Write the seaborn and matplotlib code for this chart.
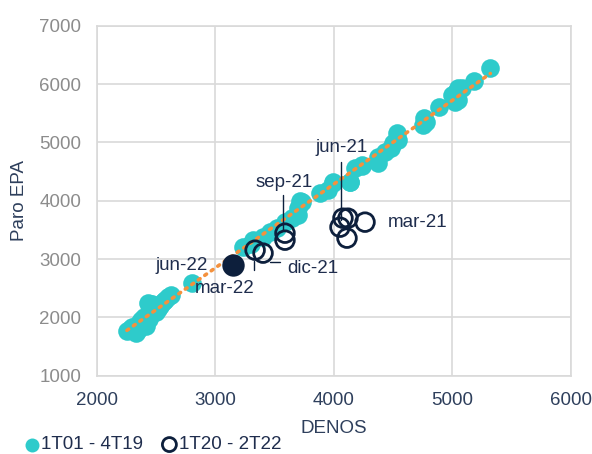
import numpy as np
import pandas as pd
import matplotlib.pyplot as plt
import seaborn as sns

sns.set_style("white")
plt.rcParams['font.family'] = ['Liberation Sans', 'DejaVu Sans']

# 1T01 - 4T19 (miles)
denos_hist = [2255, 2280, 2300, 2330, 2350, 2300, 2360, 2350, 2370, 2400, 2420, 2400,
              2440, 2430, 2450, 2460, 2470, 2480, 2480, 2500, 2520, 2530, 2550, 2570,
              2580, 2600, 2630, 2805,
              3230, 3300, 3320, 3400, 3460, 3520, 3590, 3650, 3700, 3715, 3700, 3730,
              3880, 3950, 3990, 3993, 4136, 4140, 4178, 4237, 4240, 4372, 4372, 4431,
              4480, 4498, 4532, 4540,
              4752, 4760, 4780, 4890, 5020, 5050, 5000, 5046, 5080, 5030, 5180, 5320]
paro_hist = [1770, 1800, 1830, 1740, 1780, 1780, 1900, 1850, 1960, 1950, 1860, 2000,
             1980, 2250, 2200, 2100, 2230, 2150, 2200, 2100, 2150, 2200, 2250, 2280,
             2300, 2350, 2380, 2590,
             3210, 3250, 3320, 3380, 3460, 3540, 3640, 3700, 3760, 4000, 3880, 3970,
             4140, 4180, 4310, 4318, 4318, 4320, 4557, 4608, 4600, 4643, 4745, 4830,
             4900, 4985, 5156, 5036,
             5290, 5412, 5350, 5600, 5690, 5720, 5810, 5928, 5928, 5870, 6060, 6270]

# 1T20 - 2T22
denos_covid = [4052, 4111, 4077, 4263, 4119, 3588, 3588, 3336, 3403]
paro_covid = [3546, 3358, 3700, 3632, 3700, 3443, 3323, 3152, 3101]
denos_ult = [3150]
paro_ult = [2890]

teal = '#2ECBCB'
navy = '#0D1F3C'
orange = '#F4913D'
grid = '#D9D9D9'
txt = '#1F2D4D'

hist = pd.DataFrame({'DENOS': denos_hist, 'Paro EPA': paro_hist})
covid = pd.DataFrame({'DENOS': denos_covid, 'Paro EPA': paro_covid})

fig = plt.figure(figsize=(5.92, 4.54), dpi=100)
ax = fig.add_axes([0.1633, 0.1725, 0.8012, 0.7709])

sns.scatterplot(data=hist, x='DENOS', y='Paro EPA', color=teal, s=180,
                linewidth=0, label='1T01 - 4T19', ax=ax, zorder=2)
sns.regplot(data=hist, x='DENOS', y='Paro EPA', scatter=False, ci=None, ax=ax,
            line_kws=dict(color=orange, lw=2.6, dashes=(0.6, 1.6),
                          dash_capstyle='round', zorder=3))
sns.scatterplot(data=covid, x='DENOS', y='Paro EPA', facecolor='none',
                edgecolor=navy, linewidth=2, s=180, label='1T20 - 2T22',
                ax=ax, zorder=4)
ax.scatter(denos_ult, paro_ult, color=navy, s=260, linewidth=0, zorder=5)

# etiquetas
fs = 13.5
ax.text(4069, 4916, 'jun-21', ha='center', va='center', fontsize=fs, color=txt)
ax.plot([4060, 4060], [4659, 3666], color=navy, lw=1, zorder=3)
ax.text(3580, 4317, 'sep-21', ha='center', va='center', fontsize=fs, color=txt)
ax.plot([3571, 3571], [4094, 3495], color=navy, lw=1, zorder=3)
ax.text(4456, 3632, 'mar-21', ha='left', va='center', fontsize=fs, color=txt)
ax.text(3604, 2844, 'dic-21', ha='left', va='center', fontsize=fs, color=txt)
ax.plot([3462, 3546], [2947, 2947], color=navy, lw=1, zorder=3)
ax.plot([3326, 3326], [2963, 2810], color=navy, lw=1, zorder=3)
ax.text(2940, 2896, 'jun-22', ha='right', va='center', fontsize=fs, color=txt)
ax.text(3083, 2502, 'mar-22', ha='center', va='center', fontsize=fs, color=txt)

ax.set_xlim(2000, 6000)
ax.set_ylim(1000, 7000)
ax.set_xticks([2000, 3000, 4000, 5000, 6000])
ax.set_yticks([1000, 2000, 3000, 4000, 5000, 6000, 7000])
ax.grid(True, color=grid, lw=1.2)
ax.set_axisbelow(True)
for s in ax.spines.values():
    s.set_color(grid)
    s.set_linewidth(1.2)
ax.tick_params(axis='x', length=5, color=grid, width=1.2, pad=7,
               labelsize=fs, labelcolor='#2E3F5C')
ax.tick_params(axis='y', length=0, pad=11, labelsize=fs, labelcolor='#8C8C8C')
ax.set_xlabel('DENOS', fontsize=fs, color='#2E3F5C', labelpad=8)
ax.set_ylabel('Paro EPA', fontsize=fs, color='#2E3F5C', labelpad=8)

h, l = ax.get_legend_handles_labels()
ax.legend_.remove()
fig.legend(h, l, loc='center left', bbox_to_anchor=(0.022, 0.02), ncol=2,
           frameon=False, fontsize=fs, markerscale=0.75, handletextpad=0.0,
           columnspacing=0.9, borderpad=0, handlelength=1.0, labelcolor=txt)

fig.savefig('out.png', dpi=100)
